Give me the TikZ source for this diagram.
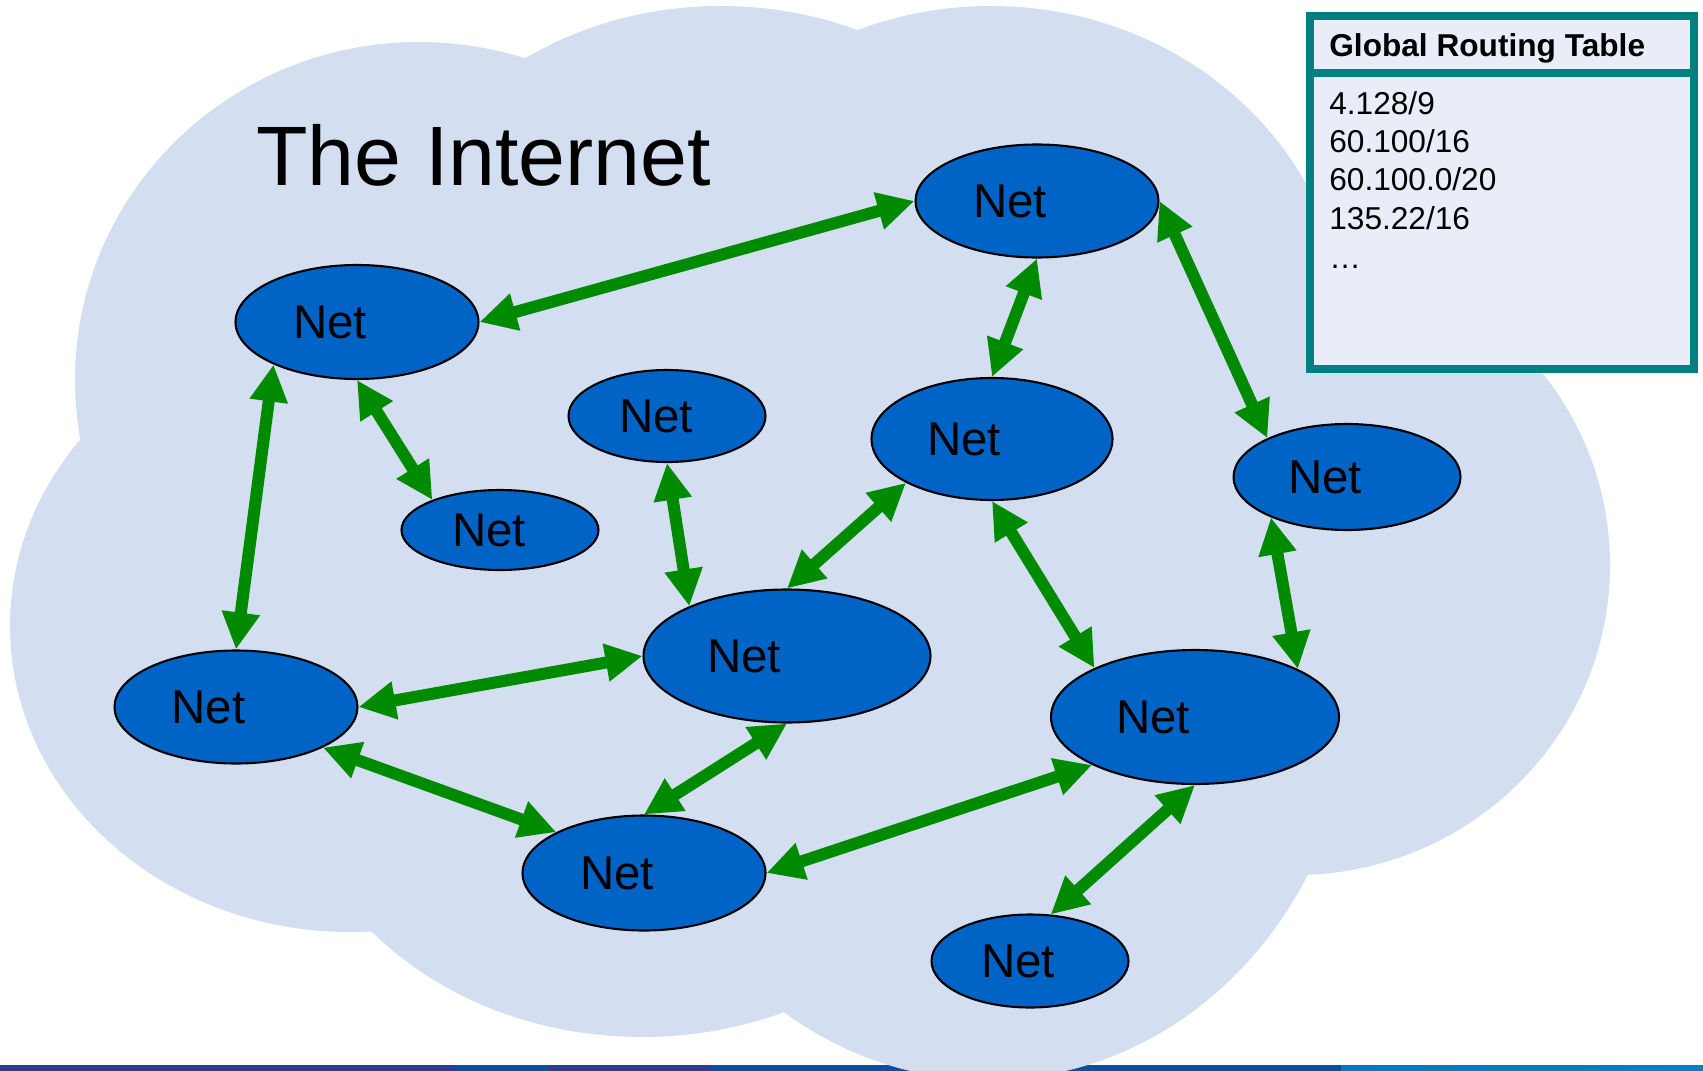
\documentclass[tikz,border=0pt]{standalone}
\usepackage{fontspec}
\setmainfont{Liberation Sans}
\usetikzlibrary{shapes.geometric,arrows.meta}

\definecolor{cloudblue}{RGB}{211,223,240}
\definecolor{netblue}{RGB}{0,99,198}
\definecolor{linkgreen}{RGB}{0,138,0}
\definecolor{tableteal}{RGB}{0,128,128}
\definecolor{tablefill}{RGB}{233,237,248}
\definecolor{barnavy}{RGB}{46,62,140}
\definecolor{barblue}{RGB}{10,80,161}
\definecolor{barlight}{RGB}{0,128,196}

\begin{document}
\begin{tikzpicture}[
  x=0.02cm, y=-0.02cm,
  net/.style={ellipse, draw, line width=1.2pt, fill=netblue, inner sep=0pt, font=\fontsize{27}{27}\selectfont},
  link/.style={<->, line width=0.24cm, draw=linkgreen},
  >={Triangle[length=0.74cm, width=0.72cm]},
  tabletext/.style={anchor=base west, inner sep=0pt, font=\fontsize{18}{21.7}\selectfont}
]
\useasboundingbox (0,0) rectangle (1703,1071);

% footer bar
\fill[barnavy] (0,1065) rectangle (456,1071);
\fill[barblue] (456,1065) rectangle (548,1071);
\fill[barnavy] (548,1065) rectangle (711,1071);
\fill[barblue] (711,1065) rectangle (1341,1071);
\shade[left color=barlight!85!barblue, right color=barlight] (1341,1065) rectangle (1703,1071);

% cloud
\fill[cloudblue] (419,380) ellipse [x radius=344, y radius=338];
\fill[cloudblue] (721,306) ellipse [x radius=347, y radius=300];
\fill[cloudblue] (991,336) ellipse [x radius=355, y radius=330];
\fill[cloudblue] (1295,565) ellipse [x radius=315, y radius=310];
\fill[cloudblue] (350,626) ellipse [x radius=340, y radius=306];
\fill[cloudblue] (642,737) ellipse [x radius=355, y radius=300];
\fill[cloudblue] (988,680) ellipse [x radius=366, y radius=400];

\node[anchor=base west, inner sep=0pt, font=\fontsize{48}{48}\selectfont] (title) at (256,186) {The Internet};

% networks
\node[net, minimum width=4.86cm, minimum height=2.28cm] (n1) at (357,322) {Net\hspace*{1.08cm}};
\node[net, minimum width=4.86cm, minimum height=2.26cm] (n2) at (1037,201) {Net\hspace*{1.08cm}};
\node[net, minimum width=3.94cm, minimum height=1.84cm] (n3) at (667,416) {Net\hspace*{0.44cm}};
\node[net, minimum width=3.94cm, minimum height=1.6cm] (n4) at (500,530) {Net\hspace*{0.44cm}};
\node[net, minimum width=4.82cm, minimum height=2.44cm] (n5) at (992,439) {Net\hspace*{1.12cm}};
\node[net, minimum width=4.54cm, minimum height=2.12cm] (n6) at (1347,477) {Net\hspace*{0.88cm}};
\node[net, minimum width=4.86cm, minimum height=2.26cm] (n7) at (236,707) {Net\hspace*{1.1cm}};
\node[net, minimum width=5.74cm, minimum height=2.66cm] (n8) at (787,656) {Net\hspace*{1.72cm}};
\node[net, minimum width=5.76cm, minimum height=2.68cm] (n9) at (1195,717) {Net\hspace*{1.68cm}};
\node[net, minimum width=4.86cm, minimum height=2.3cm] (n10) at (644,873) {Net\hspace*{1.08cm}};
\node[net, minimum width=3.94cm, minimum height=1.86cm] (n11) at (1030,961) {Net\hspace*{0.48cm}};

% links
\draw[link] (n1.east) -- (n2.west);
\draw[link] (n2.south) -- (n5.north);
\draw[link] (n2.east) -- (n6.154);
\draw[link] (n1.south) -- (n4.156);
\draw[link] (n1.207) -- (n7.north);
\draw[link] (n3.south) -- (n8.153);
\draw[link] (n5.207) -- (n8.north);
\draw[link] (n5.south) -- (n9.154);
\draw[link] (n6.208) -- (n9.25);
\draw[link] (n7.east) -- (n8.west);
\draw[link] (n7.335) -- (n10.155);
\draw[link] (n8.south) -- (n10.north);
\draw[link] (n9.205) -- (n10.east);
\draw[link] (n9.south) -- (n11.66);

% routing table
\draw[tableteal, line width=0.16cm, fill=tablefill] (1310,16) rectangle (1694,369);
\draw[tableteal, line width=0.16cm] (1310,73) -- (1694,73);
\node[tabletext, font=\bfseries\fontsize{18}{21.7}\selectfont] (tabhead) at (1329,57) {Global Routing Table};
\node[tabletext] (row1) at (1329,115) {4.128/9};
\node[tabletext] (row2) at (1329,153) {60.100/16};
\node[tabletext] (row3) at (1329,191) {60.100.0/20};
\node[tabletext] (row4) at (1329,230) {135.22/16};
\node[tabletext] (row5) at (1329,268) {…};
\end{tikzpicture}
\end{document}
